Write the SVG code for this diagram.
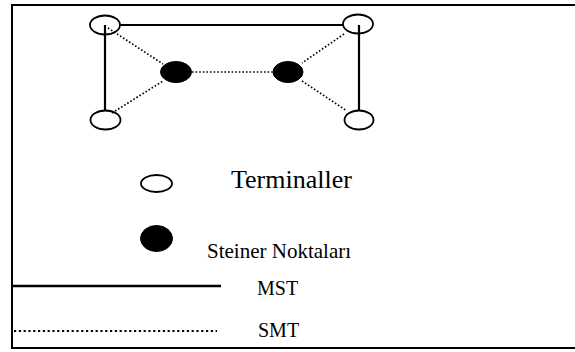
<svg xmlns="http://www.w3.org/2000/svg" width="575" height="352" viewBox="0 0 575 352">
<style>
.term{fill:none;stroke:#000;stroke-width:1.8}
.stein{fill:#000;stroke:#000;stroke-width:1}
.solid{stroke:#000;stroke-width:2.2;fill:none}
.dot{stroke:#000;stroke-width:1.7;stroke-dasharray:1.6 2;fill:none}
.lbl{font-family:"Liberation Serif","Times New Roman",serif;fill:#000}
</style>
<rect x="0" y="0" width="575" height="352" fill="#fff"/>
<path d="M577 5 H12 V348 H577" fill="none" stroke="#000" stroke-width="2"/>
<g id="connectors">
<line class="solid" x1="120" y1="25" x2="343" y2="25"/>
<line class="solid" x1="105" y1="25" x2="105" y2="111"/>
<line class="solid" x1="359" y1="25" x2="359" y2="111"/>
<line class="dot" x1="108" y1="28" x2="163" y2="64"/>
<line class="dot" x1="112" y1="113" x2="163" y2="81"/>
<line class="dot" x1="192" y1="72" x2="273" y2="72"/>
<line class="dot" x1="344" y1="34" x2="302" y2="63"/>
<line class="dot" x1="302" y1="81" x2="347" y2="111"/>
</g>
<g id="t1"><ellipse class="term" cx="105" cy="25" rx="15" ry="9.5"/></g>
<g id="t2"><ellipse class="term" cx="358" cy="24" rx="15" ry="9.5"/></g>
<g id="t3"><ellipse class="term" cx="105.5" cy="120" rx="15" ry="9.5"/></g>
<g id="t4"><ellipse class="term" cx="359" cy="120" rx="14.5" ry="9.5"/></g>
<g id="s1"><ellipse class="stein" cx="176" cy="72" rx="15.5" ry="10.5"/></g>
<g id="s2"><ellipse class="stein" cx="288" cy="72" rx="15" ry="10.5"/></g>
<g id="legend-terminal">
<ellipse class="term" cx="156.5" cy="183.5" rx="15.5" ry="8.5"/>
<text class="lbl" x="231" y="188" font-size="26">Terminaller</text>
</g>
<g id="legend-steiner">
<ellipse class="stein" cx="156.5" cy="238.5" rx="16" ry="13"/>
<text class="lbl" x="207" y="258" font-size="21">Steiner Noktaları</text>
</g>
<g id="legend-mst">
<line x1="13" y1="286" x2="221" y2="286" stroke="#000" stroke-width="2.5"/>
<text class="lbl" x="257" y="295" font-size="20">MST</text>
</g>
<g id="legend-smt">
<line x1="14" y1="331" x2="217" y2="331" stroke="#000" stroke-width="2.2" stroke-dasharray="2.2 2.6"/>
<text class="lbl" x="258" y="337" font-size="20">SMT</text>
</g>
</svg>
